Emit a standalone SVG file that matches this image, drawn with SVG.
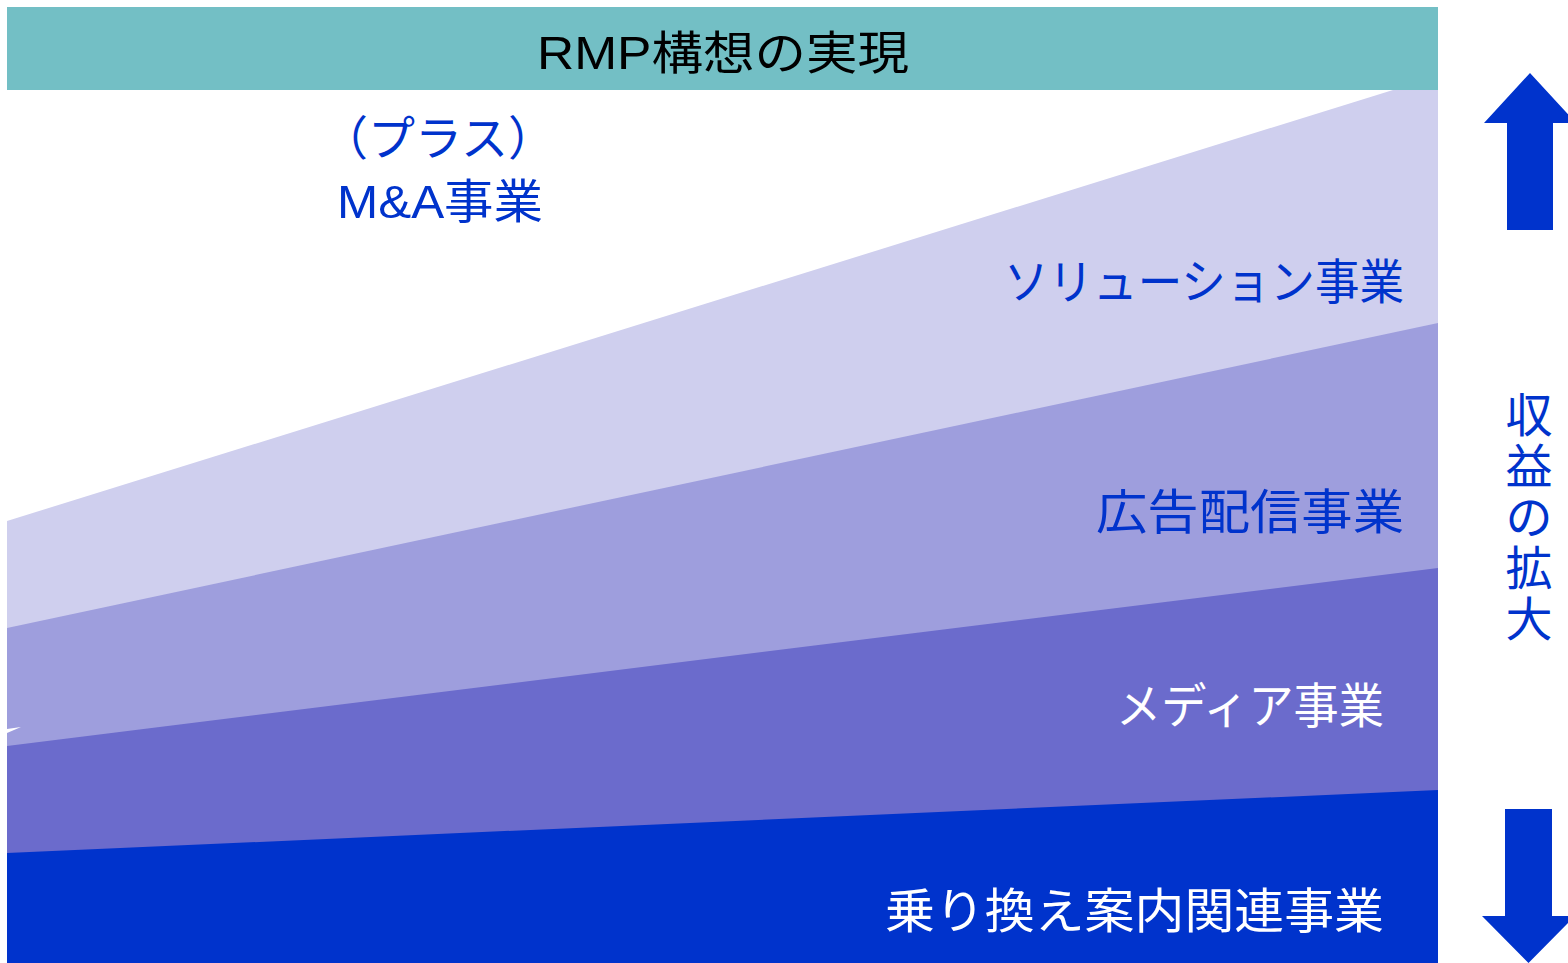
<svg xmlns="http://www.w3.org/2000/svg" width="1568" height="963" viewBox="0 0 1568 963">
  <style>
    .t { font-family: "Liberation Sans", "Noto Sans CJK JP", sans-serif; }
    .blue { fill: #0033CC; }
    .white { fill: #FFFFFF; }
    .lbl { font-size: 48px; }
  </style>
  <rect width="1568" height="963" fill="#FFFFFF"/>
  <g id="bands">
    <polygon id="band-solution" points="7,521 1438,76 1438,963 7,963" fill="#CFCFEE"/>
    <polygon id="band-ad" points="7,628 1438,323 1438,963 7,963" fill="#9E9EDD"/>
    <polygon id="band-media" points="7,746 1438,568 1438,963 7,963" fill="#6B6BCC"/>
    <polygon id="sliver" points="7,729 21,727 7,733" fill="#FFFFFF"/>
    <polygon id="band-transit" points="7,853 1438,790 1438,963 7,963" fill="#0033CC"/>
  </g>
  <g id="banner">
    <rect x="7" y="7" width="1431" height="83" fill="#73BFC5"/>
    <text class="t" x="723" y="69" font-size="46" text-anchor="middle" fill="#000000" textLength="372" lengthAdjust="spacingAndGlyphs">RMP構想の実現</text>
  </g>
  <g id="ma">
    <text class="t blue" x="438" y="155" font-size="47" text-anchor="middle">（プラス）</text>
    <text class="t blue" x="440" y="218" font-size="47" text-anchor="middle" textLength="206" lengthAdjust="spacingAndGlyphs">M&amp;A事業</text>
  </g>
  <g id="solution">
    <text class="t blue lbl" x="1404" y="299" text-anchor="end" textLength="400" lengthAdjust="spacingAndGlyphs">ソリューション事業</text>
  </g>
  <g id="ad">
    <text class="t blue lbl" x="1404" y="529" text-anchor="end" textLength="308" lengthAdjust="spacingAndGlyphs">広告配信事業</text>
  </g>
  <g id="media">
    <text class="t white lbl" x="1384" y="723" text-anchor="end" textLength="268" lengthAdjust="spacingAndGlyphs">メディア事業</text>
  </g>
  <g id="transit">
    <text class="t white lbl" x="1384" y="928" text-anchor="end" textLength="499" lengthAdjust="spacingAndGlyphs">乗り換え案内関連事業</text>
  </g>
  <g id="arrows">
    <polygon id="arrow-up" class="blue" points="1530,73 1576,123 1553,123 1553,230 1507,230 1507,123 1484,123"/>
    <polygon id="arrow-down" class="blue" points="1505,809 1552,809 1552,916 1575,916 1528.5,963 1482,916 1505,916"/>
  </g>
  <g id="revenue" class="t blue" font-size="47" text-anchor="middle">
    <text x="1529" y="432">収</text>
    <text x="1529" y="483">益</text>
    <text x="1529" y="534">の</text>
    <text x="1529" y="585">拡</text>
    <text x="1529" y="636">大</text>
  </g>
</svg>
